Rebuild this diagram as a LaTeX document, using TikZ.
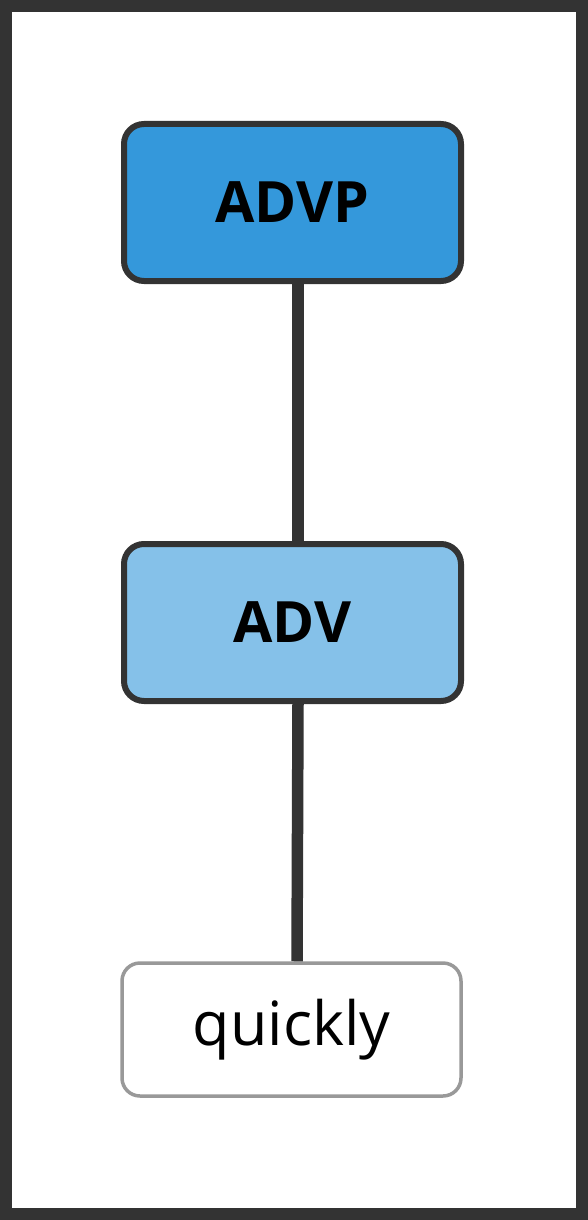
\documentclass[tikz,border=0pt]{standalone}
\usepackage{fontspec}
\setmainfont{Open Sans}
\usetikzlibrary{shapes}
\definecolor{framegray}{HTML}{333333}
\definecolor{advpblue}{HTML}{3498DB}
\definecolor{advblue}{HTML}{85C1E9}
\definecolor{leafgray}{HTML}{999999}
\tikzstyle{phrase}=[rectangle,rounded corners=20pt,draw=framegray,line width=6pt,minimum width=337pt,minimum height=157pt,inner sep=0pt,font=\fontsize{57}{66}\selectfont\bfseries]
\tikzstyle{word}=[rectangle,rounded corners=18pt,draw=leafgray,fill=white,line width=3.5pt,minimum width=339pt,minimum height=133pt,inner sep=0pt,font=\fontsize{61}{70}\selectfont]
\tikzstyle{edge} = [draw=framegray,line width=11.5pt,-]

\begin{document}
\begin{tikzpicture}[x=1pt,y=-1pt]
                    \path[fill=framegray] (0,0) rectangle (588,1220);
                    \path[fill=white] (12,12) rectangle (576,1208);

                    \node[phrase,fill=advpblue] (advp) at (292.5,202.5) {ADVP};
                    \node[phrase,fill=advblue] (adv) at (292.5,622.5) {ADV};
                    \node[word] (quickly) at (291.5,1029.5) {quickly};

                    \path[edge] ([xshift=5.5pt]advp.south) -- ([xshift=5.5pt]adv.north);
                    \path[edge] ([xshift=5.5pt]adv.south) -- ([xshift=5.5pt]quickly.north);

                    \pgfresetboundingbox
                    \path [use as bounding box] (0,0) rectangle (588,1220);
                \end{tikzpicture}
\end{document}
